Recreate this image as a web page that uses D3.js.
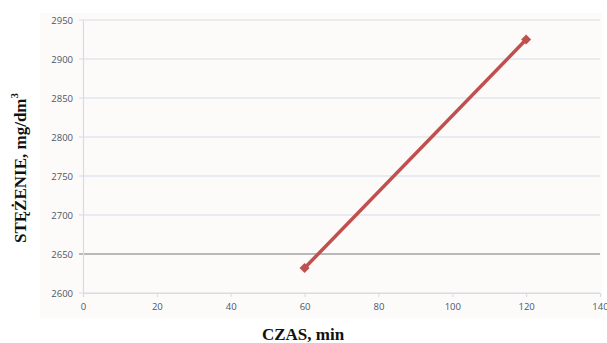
<!DOCTYPE html>
<html>
<head>
<meta charset="utf-8">
<script src="https://cdn.jsdelivr.net/npm/d3@7"></script>
<style>
  html, body { margin: 0; padding: 0; background: #fff; }
  svg { display: block; }
</style>
</head>
<body>
<div id="chart"></div>
<script>
const times = [60, 120]
const concentrations = [2632, 2925]
const xTicks = [0, 20, 40, 60, 80, 100, 120, 140]
const yTicks = [2600, 2650, 2700, 2750, 2800, 2850, 2900, 2950]

const width = 607
const height = 343
const margin = { top: 20, right: 7, bottom: 50, left: 83 }

const svg = d3.select('#chart')
  .append('svg')
  .attr('width', width)
  .attr('height', height)

// faint chart-area background
svg.append('rect')
  .attr('x', 40).attr('y', 13)
  .attr('width', 562).attr('height', 305)
  .attr('fill', '#fdfafa')

const x = d3.scaleLinear().domain([0, 140]).range([margin.left, width - margin.right])
const y = d3.scaleLinear().domain([2600, 2950]).range([height - margin.bottom, margin.top])

// gridlines
svg.append('g')
  .selectAll('line')
  .data(yTicks)
  .join('line')
  .attr('x1', margin.left - 4)
  .attr('x2', x(140))
  .attr('y1', d => y(d))
  .attr('y2', d => y(d))
  .attr('stroke', d => d === 2650 ? '#b9b9b9' : '#d3dde6')
  .attr('stroke-width', d => d === 2650 ? 2 : 1.2)

// y axis
const yAxis = svg.append('g')
  .attr('transform', `translate(${margin.left},0)`)
  .call(d3.axisLeft(y).tickValues(yTicks).tickSize(0).tickPadding(10).tickFormat(d3.format('d')))
yAxis.select('.domain').attr('stroke', '#d3dde6').attr('stroke-width', 1.2)

// x axis
const xAxis = svg.append('g')
  .attr('transform', `translate(0,${y(2600)})`)
  .call(d3.axisBottom(x).tickValues(xTicks).tickSize(4).tickPadding(6).tickFormat(d3.format('d')))
xAxis.select('.domain').attr('stroke', '#d3dde6').attr('stroke-width', 1.2)
xAxis.selectAll('.tick line').attr('stroke', '#d3dde6')

svg.selectAll('.tick text')
  .attr('font-family', 'Open Sans, Liberation Sans, sans-serif')
  .attr('font-size', 9.5)
  .attr('fill', '#4a5866')

// series
const pts = times.map((t, i) => [t, concentrations[i]])
svg.append('path')
  .datum(pts)
  .attr('fill', 'none')
  .attr('stroke', '#c0504d')
  .attr('stroke-width', 3.5)
  .attr('d', d3.line().x(d => x(d[0])).y(d => y(d[1])))

svg.append('g')
  .selectAll('path')
  .data(pts)
  .join('path')
  .attr('transform', d => `translate(${x(d[0])},${y(d[1])}) rotate(45)`)
  .attr('d', d3.symbol(d3.symbolSquare, 50))
  .attr('fill', '#c0504d')

// axis titles
svg.append('text')
  .attr('x', 303)
  .attr('y', 340)
  .attr('text-anchor', 'middle')
  .attr('font-family', 'Liberation Serif, Times New Roman, serif')
  .attr('font-weight', 'bold')
  .attr('font-size', 17)
  .attr('fill', '#111')
  .text('CZAS, min')

const yTitle = svg.append('text')
  .attr('transform', `translate(26,168) rotate(-90)`)
  .attr('text-anchor', 'middle')
  .attr('font-family', 'Liberation Serif, Times New Roman, serif')
  .attr('font-weight', 'bold')
  .attr('font-size', 17)
  .attr('fill', '#111')
yTitle.append('tspan').text('STĘŻENIE, mg/dm')
yTitle.append('tspan').attr('dy', -8).attr('font-size', 11).text('3')
</script>
</body>
</html>
